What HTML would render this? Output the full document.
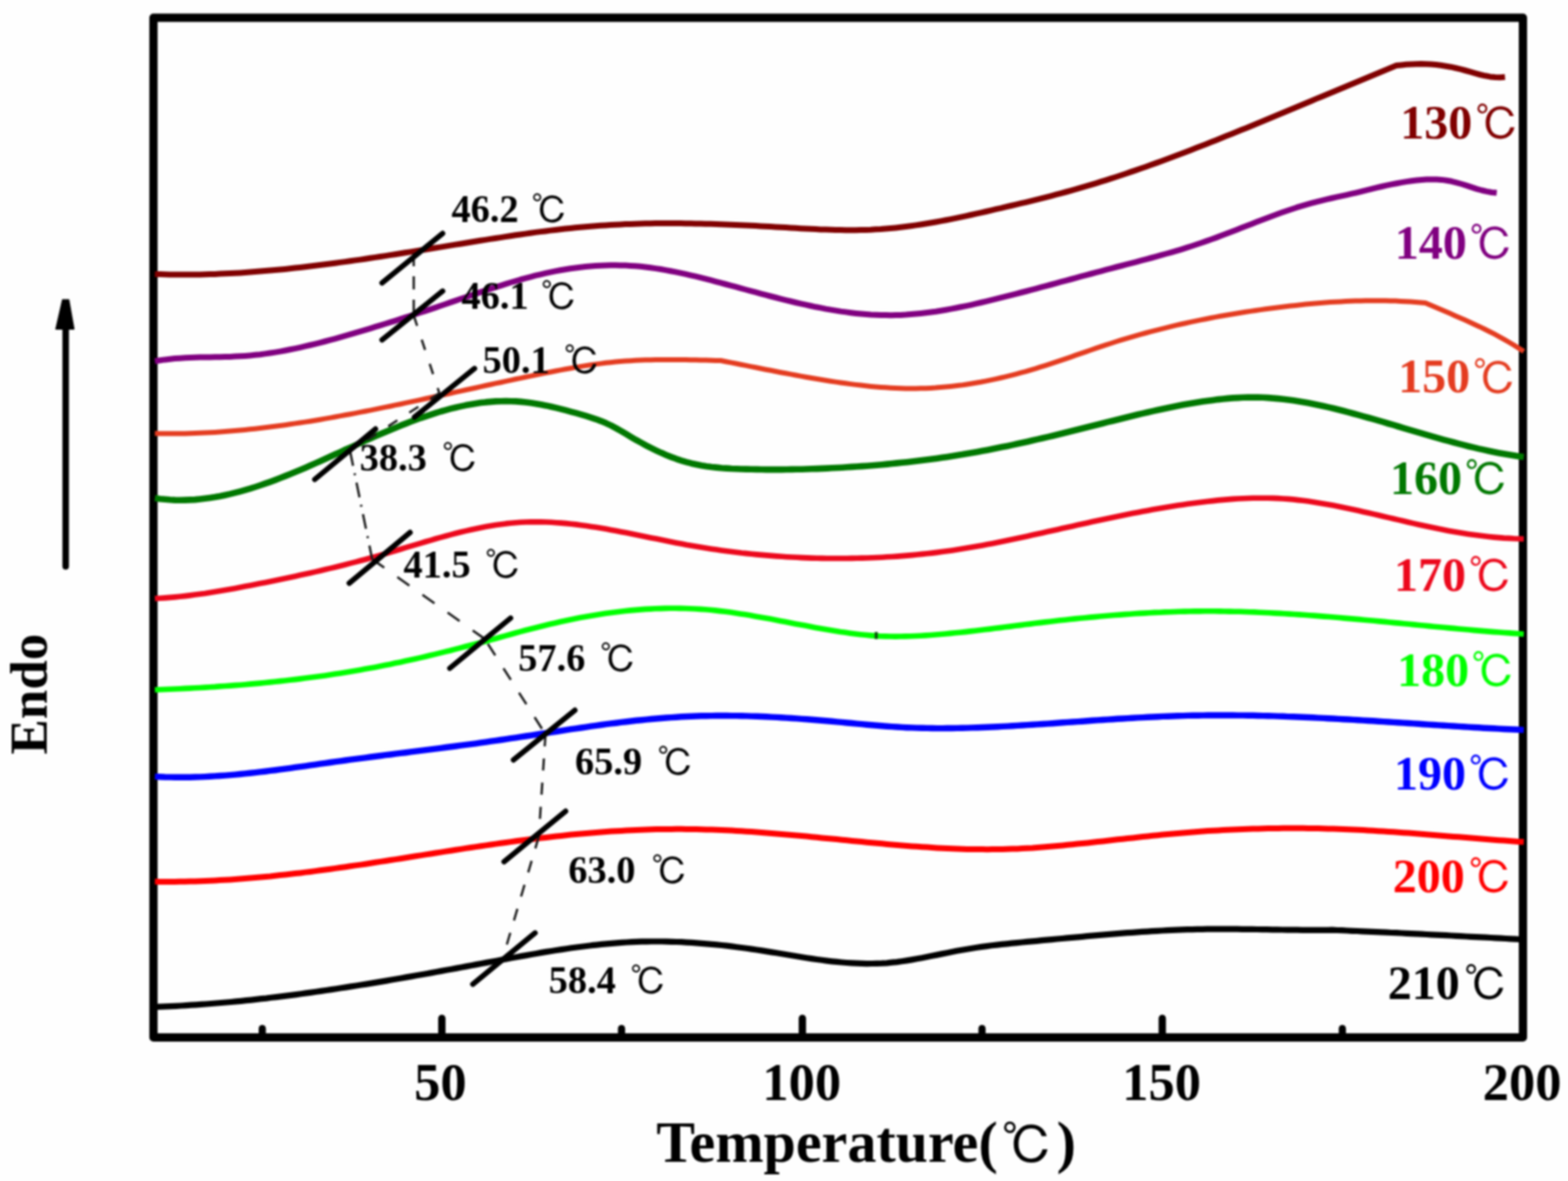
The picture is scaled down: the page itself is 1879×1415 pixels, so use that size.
<!DOCTYPE html>
<html lang="en"><head><meta charset="utf-8"><title>DSC curves</title>
<style>
html,body{margin:0;padding:0;background:#fefefe;}
body{width:1879px;height:1415px;overflow:hidden;}
svg{display:block;}
text{font-family:"Liberation Serif","Noto Serif CJK SC",serif;font-weight:bold;}
.cj{font-family:"Liberation Serif","IPAGothic","Noto Serif CJK SC",serif;font-weight:400;}
</style></head><body>
<svg width="1879" height="1415" viewBox="0 0 1879 1415">
<defs><filter id="softfocus" x="0" y="0" width="1879" height="1415" filterUnits="userSpaceOnUse" color-interpolation-filters="sRGB"><feGaussianBlur stdDeviation="0.85"/></filter></defs>
<rect x="0" y="0" width="1879" height="1415" fill="#fefefe"/>
<g filter="url(#softfocus)">
<rect x="-10" y="-10" width="1899" height="1435" fill="#fefefe"/>
<rect x="183.90" y="21.20" width="1641.10" height="1221.80" fill="none" stroke="#000" stroke-width="9.9" stroke-linejoin="round"/>
<g stroke="#000" stroke-linecap="round">
<line x1="529.5" y1="1240" x2="529.5" y2="1220.2" stroke-width="8.8"/>
<line x1="961.5" y1="1240" x2="961.5" y2="1220.2" stroke-width="8.8"/>
<line x1="1392.8" y1="1240" x2="1392.8" y2="1220.2" stroke-width="8.8"/>
<line x1="314.3" y1="1240" x2="314.3" y2="1232.3" stroke-width="8.6"/>
<line x1="744.8" y1="1240" x2="744.8" y2="1232.3" stroke-width="8.6"/>
<line x1="1176.8" y1="1240" x2="1176.8" y2="1232.3" stroke-width="8.6"/>
<line x1="1608.6" y1="1240" x2="1608.6" y2="1232.3" stroke-width="8.6"/>
</g>
<g fill="none" stroke-linecap="butt" stroke-linejoin="round">
<path d="M187.0 1206.3L193.0 1206.1L199.0 1205.9L205.0 1205.6L211.0 1205.3L217.0 1205.0L223.0 1204.6L229.0 1204.2L235.0 1203.8L241.0 1203.4L247.0 1203.0L253.0 1202.5L259.0 1202.0L265.0 1201.5L271.0 1201.0L277.0 1200.5L283.0 1199.9L289.0 1199.3L295.0 1198.7L301.0 1198.1L307.0 1197.4L313.0 1196.7L319.0 1196.1L325.0 1195.3L330.9 1194.6L336.9 1193.9L342.9 1193.1L348.9 1192.4L354.9 1191.6L360.9 1190.8L366.9 1189.9L372.9 1189.1L378.9 1188.3L384.9 1187.4L390.9 1186.5L396.9 1185.6L402.9 1184.7L408.9 1183.8L414.9 1182.9L420.9 1181.9L426.9 1181.0L432.9 1180.0L438.9 1179.1L444.9 1178.1L450.9 1177.1L456.9 1176.1L462.9 1175.1L468.9 1174.0L474.9 1173.0L480.9 1172.0L486.9 1170.9L492.9 1169.9L498.9 1168.8L504.9 1167.7L510.9 1166.7L516.9 1165.6L522.9 1164.5L528.9 1163.4L534.9 1162.3L540.9 1161.2L546.9 1160.1L552.9 1159.0L558.9 1157.9L564.9 1156.8L570.9 1155.6L576.9 1154.5L582.9 1153.4L588.9 1152.3L594.9 1151.2L600.9 1150.0L606.9 1148.9L612.8 1147.8L618.8 1146.7L624.8 1145.6L630.8 1144.6L636.8 1143.5L642.8 1142.5L648.8 1141.4L654.8 1140.4L660.8 1139.5L666.8 1138.5L672.8 1137.6L678.8 1136.7L684.8 1135.8L690.8 1135.0L696.8 1134.2L702.8 1133.5L708.8 1132.7L714.8 1132.1L720.8 1131.4L726.8 1130.9L732.8 1130.3L738.8 1129.8L744.8 1129.4L750.8 1129.0L756.8 1128.7L762.8 1128.4L768.8 1128.2L774.8 1128.1L780.8 1128.0L786.8 1128.0L792.8 1128.0L798.8 1128.1L804.8 1128.3L810.8 1128.5L816.8 1128.7L822.8 1129.1L828.8 1129.4L834.8 1129.8L840.8 1130.3L846.8 1130.8L852.8 1131.3L858.8 1131.9L864.8 1132.5L870.8 1133.2L876.8 1133.9L882.8 1134.7L888.8 1135.5L894.7 1136.3L900.7 1137.1L906.7 1138.0L912.7 1138.9L918.7 1139.9L924.7 1140.9L930.7 1141.8L936.7 1142.8L942.7 1143.8L948.7 1144.8L954.7 1145.8L960.7 1146.8L966.7 1147.7L972.7 1148.6L978.7 1149.5L984.7 1150.3L990.7 1151.1L996.7 1151.8L1002.7 1152.4L1008.7 1153.0L1014.7 1153.5L1020.7 1153.9L1026.7 1154.2L1032.7 1154.4L1038.7 1154.6L1044.7 1154.5L1050.7 1154.4L1056.7 1154.2L1062.7 1153.8L1068.7 1153.2L1074.7 1152.6L1080.7 1151.8L1086.7 1150.9L1092.7 1149.9L1098.7 1148.8L1104.7 1147.7L1110.7 1146.5L1116.7 1145.3L1122.7 1144.1L1128.7 1142.9L1134.7 1141.7L1140.7 1140.5L1146.7 1139.3L1152.7 1138.2L1158.7 1137.2L1164.7 1136.2L1170.7 1135.3L1176.6 1134.4L1182.6 1133.6L1188.6 1132.8L1194.6 1132.1L1200.6 1131.4L1206.6 1130.8L1212.6 1130.2L1218.6 1129.6L1224.6 1129.0L1230.6 1128.4L1236.6 1127.9L1242.6 1127.3L1248.6 1126.7L1254.6 1126.2L1260.6 1125.6L1266.6 1125.0L1272.6 1124.5L1278.6 1123.9L1284.6 1123.4L1290.6 1122.8L1296.6 1122.3L1302.6 1121.7L1308.6 1121.2L1314.6 1120.6L1320.6 1120.1L1326.6 1119.6L1332.6 1119.1L1338.6 1118.6L1344.6 1118.2L1350.6 1117.7L1356.6 1117.3L1362.6 1116.8L1368.6 1116.4L1374.6 1116.1L1380.6 1115.7L1386.6 1115.3L1392.6 1115.0L1398.6 1114.7L1404.6 1114.4L1410.6 1114.2L1416.6 1113.9L1422.6 1113.7L1428.6 1113.6L1434.6 1113.4L1440.6 1113.3L1446.6 1113.2L1452.6 1113.2L1458.5 1113.1L1464.5 1113.1L1470.5 1113.1L1476.5 1113.2L1482.5 1113.2L1488.5 1113.3L1494.5 1113.3L1500.5 1113.4L1506.5 1113.5L1512.5 1113.6L1518.5 1113.7L1524.5 1113.8L1530.5 1113.9L1536.5 1114.0L1542.5 1114.1L1548.5 1114.2L1554.5 1114.2L1560.5 1114.3L1566.5 1114.3L1572.5 1114.3L1578.5 1114.3L1584.5 1114.3L1590.5 1114.3L1596.5 1114.2L1602.4 1114.5L1608.4 1114.7L1614.3 1115.0L1620.2 1115.3L1626.2 1115.5L1632.1 1115.8L1638.0 1116.1L1644.0 1116.3L1649.9 1116.6L1655.8 1116.9L1661.8 1117.2L1667.7 1117.5L1673.6 1117.7L1679.6 1118.0L1685.5 1118.3L1691.4 1118.6L1697.4 1118.9L1703.3 1119.2L1709.2 1119.5L1715.2 1119.8L1721.1 1120.1L1727.1 1120.4L1733.0 1120.7L1738.9 1121.0L1744.9 1121.3L1750.8 1121.6L1756.7 1122.0L1762.7 1122.3L1768.6 1122.6L1774.5 1122.9L1780.5 1123.2L1786.4 1123.5L1792.3 1123.9L1798.3 1124.2L1804.2 1124.5L1810.1 1124.8L1816.1 1125.2L1822.0 1125.5" stroke="#000000" stroke-width="7.2"/>
<path d="M185.6 1056.3L191.6 1056.4L197.6 1056.4L203.6 1056.4L209.6 1056.4L215.6 1056.3L221.7 1056.2L227.7 1056.1L233.7 1055.9L239.7 1055.7L245.7 1055.5L251.7 1055.2L257.7 1054.9L263.7 1054.6L269.7 1054.3L275.7 1053.9L281.7 1053.5L287.7 1053.0L293.8 1052.6L299.8 1052.1L305.8 1051.6L311.8 1051.0L317.8 1050.4L323.8 1049.9L329.8 1049.2L335.8 1048.6L341.8 1048.0L347.8 1047.3L353.8 1046.6L359.9 1045.9L365.9 1045.1L371.9 1044.4L377.9 1043.6L383.9 1042.8L389.9 1042.0L395.9 1041.2L401.9 1040.4L407.9 1039.5L413.9 1038.7L419.9 1037.8L426.0 1036.9L432.0 1036.1L438.0 1035.2L444.0 1034.2L450.0 1033.3L456.0 1032.4L462.0 1031.5L468.0 1030.5L474.0 1029.6L480.0 1028.7L486.0 1027.7L492.0 1026.8L498.1 1025.8L504.1 1024.9L510.1 1023.9L516.1 1023.0L522.1 1022.0L528.1 1021.1L534.1 1020.1L540.1 1019.2L546.1 1018.3L552.1 1017.4L558.1 1016.4L564.2 1015.5L570.2 1014.6L576.2 1013.7L582.2 1012.9L588.2 1012.0L594.2 1011.1L600.2 1010.3L606.2 1009.5L612.2 1008.6L618.2 1007.8L624.2 1007.0L630.3 1006.3L636.3 1005.5L642.3 1004.8L648.3 1004.1L654.3 1003.4L660.3 1002.7L666.3 1002.0L672.3 1001.4L678.3 1000.7L684.3 1000.1L690.3 999.6L696.3 999.0L702.4 998.5L708.4 997.9L714.4 997.5L720.4 997.0L726.4 996.5L732.4 996.1L738.4 995.7L744.4 995.4L750.4 995.0L756.4 994.7L762.4 994.5L768.5 994.2L774.5 994.0L780.5 993.8L786.5 993.6L792.5 993.5L798.5 993.4L804.5 993.4L810.5 993.3L816.5 993.3L822.5 993.4L828.5 993.4L834.5 993.5L840.6 993.7L846.6 993.9L852.6 994.1L858.6 994.3L864.6 994.5L870.6 994.8L876.6 995.1L882.6 995.5L888.6 995.8L894.6 996.2L900.6 996.6L906.7 997.0L912.7 997.5L918.7 997.9L924.7 998.4L930.7 998.9L936.7 999.4L942.7 999.9L948.7 1000.5L954.7 1001.0L960.7 1001.6L966.7 1002.1L972.8 1002.7L978.8 1003.3L984.8 1003.9L990.8 1004.4L996.8 1005.0L1002.8 1005.6L1008.8 1006.2L1014.8 1006.8L1020.8 1007.4L1026.8 1008.0L1032.8 1008.6L1038.8 1009.2L1044.9 1009.7L1050.9 1010.3L1056.9 1010.8L1062.9 1011.4L1068.9 1011.9L1074.9 1012.4L1080.9 1012.9L1086.9 1013.4L1092.9 1013.9L1098.9 1014.3L1104.9 1014.7L1111.0 1015.1L1117.0 1015.5L1123.0 1015.9L1129.0 1016.2L1135.0 1016.5L1141.0 1016.8L1147.0 1017.0L1153.0 1017.2L1159.0 1017.4L1165.0 1017.5L1171.0 1017.6L1177.1 1017.6L1183.1 1017.7L1189.1 1017.6L1195.1 1017.6L1201.1 1017.5L1207.1 1017.3L1213.1 1017.1L1219.1 1016.9L1225.1 1016.6L1231.1 1016.2L1237.1 1015.9L1243.1 1015.4L1249.2 1015.0L1255.2 1014.5L1261.2 1014.0L1267.2 1013.5L1273.2 1012.9L1279.2 1012.3L1285.2 1011.7L1291.2 1011.1L1297.2 1010.5L1303.2 1009.9L1309.2 1009.2L1315.3 1008.5L1321.3 1007.9L1327.3 1007.2L1333.3 1006.5L1339.3 1005.8L1345.3 1005.2L1351.3 1004.5L1357.3 1003.9L1363.3 1003.2L1369.3 1002.6L1375.3 1001.9L1381.3 1001.3L1387.4 1000.7L1393.4 1000.1L1399.4 999.5L1405.4 999.0L1411.4 998.4L1417.4 997.9L1423.4 997.4L1429.4 996.9L1435.4 996.5L1441.4 996.1L1447.4 995.6L1453.5 995.3L1459.5 994.9L1465.5 994.6L1471.5 994.2L1477.5 994.0L1483.5 993.7L1489.5 993.4L1495.5 993.2L1501.5 993.0L1507.5 992.9L1513.5 992.7L1519.6 992.6L1525.6 992.5L1531.6 992.4L1537.6 992.3L1543.6 992.3L1549.6 992.3L1555.6 992.3L1561.6 992.3L1567.6 992.4L1573.6 992.5L1579.6 992.6L1585.6 992.7L1591.7 992.9L1597.7 993.1L1603.7 993.3L1609.7 993.5L1615.7 993.8L1621.7 994.0L1627.7 994.3L1633.7 994.6L1639.7 995.0L1645.7 995.3L1651.7 995.7L1657.8 996.0L1663.8 996.4L1669.8 996.8L1675.8 997.2L1681.8 997.7L1687.8 998.1L1693.8 998.6L1699.8 999.0L1705.8 999.5L1711.8 999.9L1717.8 1000.4L1723.9 1000.9L1729.9 1001.4L1735.9 1001.9L1741.9 1002.4L1747.9 1002.8L1753.9 1003.3L1759.9 1003.8L1765.9 1004.3L1771.9 1004.8L1777.9 1005.3L1783.9 1005.7L1789.9 1006.2L1796.0 1006.7L1802.0 1007.1L1808.0 1007.5L1814.0 1008.0L1820.0 1008.4L1826.0 1008.8" stroke="#ff0000" stroke-width="7.0"/>
<path d="M185.6 930.4L191.6 930.7L197.6 931.0L203.6 931.1L209.6 931.2L215.6 931.3L221.7 931.3L227.7 931.2L233.7 931.0L239.7 930.9L245.7 930.6L251.7 930.3L257.7 929.9L263.7 929.5L269.7 929.1L275.7 928.6L281.7 928.1L287.7 927.5L293.8 926.9L299.8 926.3L305.8 925.6L311.8 924.9L317.8 924.2L323.8 923.4L329.8 922.7L335.8 921.9L341.8 921.1L347.8 920.3L353.8 919.4L359.9 918.6L365.9 917.8L371.9 916.9L377.9 916.1L383.9 915.2L389.9 914.4L395.9 913.5L401.9 912.7L407.9 911.8L413.9 911.0L419.9 910.2L426.0 909.4L432.0 908.6L438.0 907.8L444.0 907.0L450.0 906.3L456.0 905.5L462.0 904.7L468.0 904.0L474.0 903.2L480.0 902.4L486.0 901.7L492.0 900.9L498.1 900.1L504.1 899.4L510.1 898.6L516.1 897.9L522.1 897.1L528.1 896.3L534.1 895.5L540.1 894.8L546.1 894.0L552.1 893.2L558.1 892.4L564.2 891.6L570.2 890.8L576.2 889.9L582.2 889.1L588.2 888.2L594.2 887.4L600.2 886.5L606.2 885.6L612.2 884.7L618.2 883.8L624.2 882.9L630.3 882.0L636.3 881.1L642.3 880.2L648.3 879.2L654.3 878.3L660.3 877.4L666.3 876.5L672.3 875.6L678.3 874.6L684.3 873.7L690.3 872.8L696.3 872.0L702.4 871.1L708.4 870.2L714.4 869.4L720.4 868.5L726.4 867.7L732.4 866.9L738.4 866.2L744.4 865.4L750.4 864.7L756.4 864.0L762.4 863.3L768.5 862.7L774.5 862.1L780.5 861.5L786.5 861.0L792.5 860.5L798.5 860.0L804.5 859.6L810.5 859.2L816.5 858.8L822.5 858.5L828.5 858.2L834.5 858.0L840.6 857.8L846.6 857.7L852.6 857.6L858.6 857.5L864.6 857.5L870.6 857.5L876.6 857.6L882.6 857.6L888.6 857.8L894.6 857.9L900.6 858.1L906.7 858.3L912.7 858.5L918.7 858.8L924.7 859.1L930.7 859.4L936.7 859.8L942.7 860.1L948.7 860.5L954.7 860.9L960.7 861.4L966.7 861.8L972.8 862.3L978.8 862.8L984.8 863.3L990.8 863.8L996.8 864.3L1002.8 864.9L1008.8 865.4L1014.8 866.0L1020.8 866.5L1026.8 867.1L1032.8 867.6L1038.8 868.2L1044.9 868.7L1050.9 869.2L1056.9 869.7L1062.9 870.2L1068.9 870.6L1074.9 871.0L1080.9 871.4L1086.9 871.7L1092.9 871.9L1098.9 872.1L1104.9 872.3L1111.0 872.4L1117.0 872.5L1123.0 872.6L1129.0 872.6L1135.0 872.5L1141.0 872.5L1147.0 872.4L1153.0 872.3L1159.0 872.1L1165.0 871.9L1171.0 871.7L1177.1 871.5L1183.1 871.2L1189.1 871.0L1195.1 870.7L1201.1 870.4L1207.1 870.1L1213.1 869.7L1219.1 869.4L1225.1 869.0L1231.1 868.6L1237.1 868.3L1243.1 867.9L1249.2 867.5L1255.2 867.1L1261.2 866.7L1267.2 866.3L1273.2 865.8L1279.2 865.4L1285.2 865.0L1291.2 864.6L1297.2 864.2L1303.2 863.7L1309.2 863.3L1315.3 862.9L1321.3 862.5L1327.3 862.1L1333.3 861.7L1339.3 861.3L1345.3 861.0L1351.3 860.6L1357.3 860.3L1363.3 859.9L1369.3 859.6L1375.3 859.3L1381.3 859.0L1387.4 858.7L1393.4 858.4L1399.4 858.2L1405.4 858.0L1411.4 857.8L1417.4 857.6L1423.4 857.4L1429.4 857.3L1435.4 857.2L1441.4 857.1L1447.4 857.0L1453.5 857.0L1459.5 857.0L1465.5 857.0L1471.5 857.0L1477.5 857.0L1483.5 857.1L1489.5 857.1L1495.5 857.2L1501.5 857.3L1507.5 857.5L1513.5 857.6L1519.6 857.8L1525.6 857.9L1531.6 858.1L1537.6 858.3L1543.6 858.6L1549.6 858.8L1555.6 859.0L1561.6 859.3L1567.6 859.5L1573.6 859.8L1579.6 860.1L1585.6 860.4L1591.7 860.7L1597.7 861.0L1603.7 861.4L1609.7 861.7L1615.7 862.0L1621.7 862.4L1627.7 862.7L1633.7 863.1L1639.7 863.5L1645.7 863.8L1651.7 864.2L1657.8 864.6L1663.8 865.0L1669.8 865.4L1675.8 865.7L1681.8 866.1L1687.8 866.5L1693.8 866.9L1699.8 867.3L1705.8 867.7L1711.8 868.1L1717.8 868.5L1723.9 868.9L1729.9 869.2L1735.9 869.6L1741.9 870.0L1747.9 870.4L1753.9 870.7L1759.9 871.1L1765.9 871.5L1771.9 871.8L1777.9 872.2L1783.9 872.5L1789.9 872.8L1796.0 873.1L1802.0 873.5L1808.0 873.8L1814.0 874.0L1820.0 874.3L1826.0 874.6" stroke="#0000ff" stroke-width="7.4"/>
<path d="M185.6 826.5L191.6 826.3L197.6 826.0L203.6 825.8L209.6 825.5L215.6 825.2L221.6 824.9L227.6 824.6L233.6 824.3L239.6 824.0L245.6 823.6L251.6 823.2L257.6 822.9L263.5 822.4L269.5 822.0L275.5 821.6L281.5 821.1L287.5 820.7L293.5 820.2L299.5 819.6L305.5 819.1L311.5 818.6L317.5 818.0L323.5 817.4L329.5 816.8L335.5 816.1L341.5 815.5L347.5 814.8L353.5 814.1L359.5 813.4L365.5 812.6L371.5 811.8L377.5 811.0L383.5 810.2L389.5 809.4L395.5 808.5L401.5 807.6L407.4 806.7L413.4 805.7L419.4 804.7L425.4 803.7L431.4 802.7L437.4 801.6L443.4 800.5L449.4 799.4L455.4 798.3L461.4 797.1L467.4 795.9L473.4 794.6L479.4 793.4L485.4 792.1L491.4 790.8L497.4 789.5L503.4 788.1L509.4 786.7L515.4 785.3L521.4 783.9L527.4 782.4L533.4 780.9L539.4 779.5L545.4 777.9L551.3 776.4L557.3 774.8L563.3 773.3L569.3 771.7L575.3 770.1L581.3 768.5L587.3 766.8L593.3 765.2L599.3 763.5L605.3 761.8L611.3 760.2L617.3 758.5L623.3 756.9L629.3 755.3L635.3 753.7L641.3 752.2L647.3 750.7L653.3 749.2L659.3 747.7L665.3 746.4L671.3 745.0L677.3 743.7L683.3 742.4L689.2 741.2L695.2 740.1L701.2 739.0L707.2 737.9L713.2 736.9L719.2 735.9L725.2 735.0L731.2 734.2L737.2 733.4L743.2 732.7L749.2 732.0L755.2 731.4L761.2 730.9L767.2 730.4L773.2 729.9L779.2 729.6L785.2 729.3L791.2 729.1L797.2 728.9L803.2 728.8L809.2 728.8L815.2 728.9L821.2 729.0L827.2 729.2L833.2 729.5L839.1 729.9L845.1 730.3L851.1 730.8L857.1 731.4L863.1 732.1L869.1 732.8L875.1 733.6L881.1 734.5L887.1 735.4L893.1 736.3L899.1 737.3L905.1 738.4L911.1 739.4L917.1 740.5L923.1 741.6L929.1 742.7L935.1 743.9L941.1 745.0L947.1 746.2L953.1 747.4L959.1 748.5L965.1 749.6L971.1 750.8L977.1 751.9L983.0 753.0L989.0 754.0L995.0 755.0L1001.0 756.0L1007.0 757.0L1013.0 757.8L1019.0 758.7L1025.0 759.5L1031.0 760.2L1037.0 760.8L1043.0 761.4L1049.0 761.9L1055.0 762.2L1061.0 762.4L1066.9 762.5L1072.9 762.6L1078.9 762.5L1084.9 762.4L1090.8 762.2L1096.8 762.0L1102.8 761.7L1108.8 761.4L1114.7 761.0L1120.7 760.5L1126.7 760.0L1132.7 759.5L1138.7 758.9L1144.6 758.3L1150.6 757.7L1156.6 757.1L1162.6 756.4L1168.5 755.7L1174.5 755.0L1180.5 754.3L1186.5 753.6L1192.4 752.8L1198.4 752.1L1204.4 751.3L1210.4 750.6L1216.4 749.8L1222.3 749.1L1228.3 748.3L1234.3 747.6L1240.3 746.8L1246.2 746.1L1252.2 745.4L1258.2 744.7L1264.2 744.0L1270.1 743.3L1276.1 742.7L1282.1 742.0L1288.1 741.4L1294.1 740.8L1300.0 740.2L1306.0 739.6L1312.0 739.1L1318.0 738.5L1323.9 738.0L1329.9 737.5L1335.9 737.0L1341.9 736.6L1347.8 736.1L1353.8 735.7L1359.8 735.3L1365.8 734.9L1371.8 734.6L1377.7 734.3L1383.7 733.9L1389.7 733.7L1395.7 733.4L1401.6 733.2L1407.6 733.0L1413.6 732.8L1419.6 732.6L1425.5 732.5L1431.5 732.4L1437.5 732.4L1443.5 732.3L1449.5 732.3L1455.4 732.3L1461.4 732.4L1467.4 732.5L1473.4 732.6L1479.3 732.7L1485.3 732.8L1491.3 733.0L1497.3 733.2L1503.2 733.4L1509.2 733.7L1515.2 734.0L1521.2 734.2L1527.2 734.6L1533.1 734.9L1539.1 735.2L1545.1 735.6L1551.1 736.0L1557.0 736.4L1563.0 736.8L1569.0 737.2L1575.0 737.6L1580.9 738.1L1586.9 738.6L1592.9 739.0L1598.9 739.5L1604.9 740.0L1610.8 740.6L1616.8 741.1L1622.8 741.6L1628.8 742.1L1634.7 742.7L1640.7 743.2L1646.7 743.8L1652.7 744.4L1658.6 744.9L1664.6 745.5L1670.6 746.1L1676.6 746.6L1682.6 747.2L1688.5 747.8L1694.5 748.4L1700.5 749.0L1706.5 749.5L1712.4 750.1L1718.4 750.7L1724.4 751.2L1730.4 751.8L1736.3 752.4L1742.3 752.9L1748.3 753.5L1754.3 754.0L1760.3 754.5L1766.2 755.1L1772.2 755.6L1778.2 756.1L1784.2 756.6L1790.1 757.1L1796.1 757.5L1802.1 758.0L1808.1 758.4L1814.0 758.9L1820.0 759.3L1826.0 759.7" stroke="#00ff00" stroke-width="6.6"/>
<path d="M185.6 717.1L191.6 716.8L197.6 716.4L203.6 715.9L209.6 715.4L215.6 714.8L221.7 714.1L227.7 713.4L233.7 712.6L239.7 711.8L245.7 711.0L251.7 710.0L257.7 709.1L263.7 708.1L269.7 707.1L275.7 706.0L281.7 704.9L287.7 703.8L293.8 702.6L299.8 701.5L305.8 700.3L311.8 699.1L317.8 697.9L323.8 696.7L329.8 695.5L335.8 694.2L341.8 693.0L347.8 691.7L353.8 690.4L359.9 689.1L365.9 687.8L371.9 686.5L377.9 685.1L383.9 683.7L389.9 682.3L395.9 680.9L401.9 679.5L407.9 678.0L413.9 676.5L419.9 674.9L426.0 673.4L432.0 671.8L438.0 670.2L444.0 668.5L450.0 666.8L456.0 665.1L462.0 663.3L468.0 661.6L474.0 659.8L480.0 658.0L486.0 656.2L492.0 654.4L498.1 652.6L504.1 650.8L510.1 649.0L516.1 647.3L522.1 645.5L528.1 643.9L534.1 642.2L540.1 640.6L546.1 639.0L552.1 637.5L558.1 636.1L564.2 634.7L570.2 633.4L576.2 632.2L582.2 631.1L588.2 630.0L594.2 629.0L600.2 628.2L606.2 627.4L612.2 626.8L618.2 626.2L624.2 625.8L630.3 625.5L636.3 625.4L642.3 625.3L648.3 625.4L654.3 625.5L660.3 625.8L666.3 626.2L672.3 626.6L678.3 627.1L684.3 627.7L690.3 628.4L696.3 629.2L702.4 630.0L708.4 630.9L714.4 631.8L720.4 632.8L726.4 633.8L732.4 634.9L738.4 636.0L744.4 637.2L750.4 638.3L756.4 639.5L762.4 640.7L768.5 641.9L774.5 643.2L780.5 644.4L786.5 645.6L792.5 646.8L798.5 648.0L804.5 649.2L810.5 650.4L816.5 651.5L822.5 652.7L828.5 653.7L834.5 654.8L840.6 655.8L846.6 656.7L852.6 657.7L858.6 658.6L864.6 659.4L870.6 660.2L876.6 661.0L882.6 661.7L888.6 662.5L894.6 663.1L900.6 663.8L906.7 664.4L912.7 664.9L918.7 665.4L924.7 665.9L930.7 666.4L936.7 666.8L942.7 667.2L948.7 667.5L954.7 667.8L960.7 668.1L966.7 668.4L972.8 668.6L978.8 668.7L984.8 668.9L990.8 669.0L996.8 669.0L1002.8 669.0L1008.8 669.0L1014.8 669.0L1020.8 668.9L1026.8 668.8L1032.8 668.6L1038.8 668.5L1044.9 668.2L1050.9 668.0L1056.9 667.7L1062.9 667.3L1068.9 667.0L1074.9 666.6L1080.9 666.1L1086.9 665.6L1092.9 665.1L1098.9 664.5L1104.9 663.9L1111.0 663.3L1117.0 662.6L1123.0 661.9L1129.0 661.1L1135.0 660.3L1141.0 659.4L1147.0 658.5L1153.0 657.6L1159.0 656.6L1165.0 655.6L1171.0 654.5L1177.1 653.4L1183.1 652.3L1189.1 651.2L1195.1 650.0L1201.1 648.8L1207.1 647.5L1213.1 646.3L1219.1 645.0L1225.1 643.7L1231.1 642.4L1237.1 641.1L1243.1 639.7L1249.2 638.4L1255.2 637.1L1261.2 635.7L1267.2 634.4L1273.2 633.1L1279.2 631.7L1285.2 630.4L1291.2 629.1L1297.2 627.7L1303.2 626.4L1309.2 625.1L1315.3 623.8L1321.3 622.5L1327.3 621.3L1333.3 620.0L1339.3 618.8L1345.3 617.5L1351.3 616.3L1357.3 615.1L1363.3 614.0L1369.3 612.8L1375.3 611.7L1381.3 610.6L1387.4 609.6L1393.4 608.5L1399.4 607.5L1405.4 606.5L1411.4 605.6L1417.4 604.7L1423.4 603.8L1429.4 603.0L1435.4 602.2L1441.4 601.4L1447.4 600.7L1453.5 600.1L1459.5 599.4L1465.5 598.9L1471.5 598.4L1477.5 597.9L1483.5 597.5L1489.5 597.2L1495.5 597.0L1501.5 596.8L1507.5 596.7L1513.5 596.7L1519.6 596.7L1525.6 596.9L1531.6 597.1L1537.6 597.5L1543.6 597.9L1549.6 598.4L1555.6 599.1L1561.6 599.8L1567.6 600.6L1573.6 601.4L1579.6 602.4L1585.6 603.4L1591.7 604.4L1597.7 605.6L1603.7 606.7L1609.7 608.0L1615.7 609.2L1621.7 610.5L1627.7 611.8L1633.7 613.2L1639.7 614.5L1645.7 615.9L1651.7 617.3L1657.8 618.7L1663.8 620.1L1669.8 621.5L1675.8 622.9L1681.8 624.3L1687.8 625.7L1693.8 627.1L1699.8 628.4L1705.8 629.8L1711.8 631.1L1717.8 632.3L1723.9 633.6L1729.9 634.7L1735.9 635.9L1741.9 637.0L1747.9 638.0L1753.9 639.0L1759.9 639.9L1765.9 640.8L1771.9 641.6L1777.9 642.3L1783.9 643.0L1789.9 643.6L1796.0 644.1L1802.0 644.6L1808.0 644.9L1814.0 645.3L1820.0 645.5L1826.0 645.7" stroke="#ec081c" stroke-width="6.6"/>
<path d="M185.6 596.8L191.6 597.7L197.6 598.3L203.6 598.8L209.6 599.1L215.6 599.2L221.7 599.1L227.7 598.9L233.7 598.6L239.7 598.0L245.7 597.3L251.7 596.5L257.7 595.6L263.7 594.5L269.7 593.2L275.7 591.9L281.7 590.4L287.7 588.8L293.8 587.1L299.8 585.4L305.8 583.5L311.8 581.5L317.8 579.4L323.8 577.3L329.8 575.1L335.8 572.8L341.8 570.4L347.8 568.0L353.8 565.5L359.9 563.0L365.9 560.4L371.9 557.8L377.9 555.1L383.9 552.5L389.9 549.8L395.9 547.0L401.9 544.3L407.9 541.6L413.9 538.8L419.9 536.1L426.0 533.4L432.0 530.6L438.0 527.9L444.0 525.2L450.0 522.6L456.0 520.0L462.0 517.4L468.0 514.9L474.0 512.4L480.0 509.9L486.0 507.6L492.0 505.3L498.1 503.0L504.1 500.8L510.1 498.8L516.1 496.8L522.1 494.9L528.1 493.0L534.1 491.3L540.1 489.7L546.1 488.2L552.1 486.9L558.1 485.6L564.2 484.5L570.2 483.5L576.2 482.6L582.2 481.9L588.2 481.4L594.2 480.9L600.2 480.7L606.2 480.6L612.2 480.7L618.2 480.9L624.2 481.4L630.3 482.0L636.3 482.8L642.3 483.7L648.3 484.8L654.3 485.9L660.3 487.2L666.3 488.6L672.3 490.1L678.3 491.7L684.3 493.3L690.3 494.9L696.3 496.6L702.4 498.4L708.4 500.3L714.4 502.3L720.4 504.6L726.4 507.1L732.4 509.9L738.4 513.1L744.4 516.5L750.4 520.1L756.4 523.7L762.4 527.2L768.5 530.5L774.5 533.8L780.5 536.9L786.5 539.8L792.5 542.6L798.5 545.2L804.5 547.6L810.5 549.8L816.5 551.8L822.5 553.6L828.5 555.2L834.5 556.5L840.6 557.7L846.6 558.7L852.6 559.5L858.6 560.1L864.6 560.7L870.6 561.1L876.6 561.5L882.6 561.7L888.6 562.0L894.6 562.1L900.6 562.3L906.7 562.4L912.7 562.5L918.7 562.6L924.7 562.6L930.7 562.6L936.7 562.6L942.7 562.5L948.7 562.4L954.7 562.3L960.7 562.2L966.7 562.0L972.8 561.8L978.8 561.6L984.8 561.4L990.8 561.1L996.8 560.8L1002.8 560.5L1008.8 560.2L1014.8 559.8L1020.8 559.4L1026.8 559.0L1032.8 558.6L1038.8 558.2L1044.9 557.7L1050.9 557.2L1056.9 556.7L1062.9 556.1L1068.9 555.5L1074.9 554.9L1080.9 554.3L1086.9 553.7L1092.9 553.0L1098.9 552.3L1104.9 551.5L1111.0 550.8L1117.0 550.0L1123.0 549.2L1129.0 548.3L1135.0 547.4L1141.0 546.5L1147.0 545.5L1153.0 544.6L1159.0 543.5L1165.0 542.5L1171.0 541.4L1177.1 540.3L1183.1 539.2L1189.1 538.0L1195.1 536.8L1201.1 535.6L1207.1 534.4L1213.1 533.1L1219.1 531.8L1225.1 530.5L1231.1 529.2L1237.1 527.8L1243.1 526.4L1249.2 525.0L1255.2 523.6L1261.2 522.2L1267.2 520.8L1273.2 519.3L1279.2 517.8L1285.2 516.3L1291.2 514.8L1297.2 513.3L1303.2 511.8L1309.2 510.3L1315.3 508.8L1321.3 507.3L1327.3 505.7L1333.3 504.2L1339.3 502.7L1345.3 501.2L1351.3 499.7L1357.3 498.3L1363.3 496.8L1369.3 495.4L1375.3 494.0L1381.3 492.6L1387.4 491.3L1393.4 490.0L1399.4 488.7L1405.4 487.5L1411.4 486.3L1417.4 485.1L1423.4 484.0L1429.4 483.0L1435.4 482.0L1441.4 481.0L1447.4 480.2L1453.5 479.4L1459.5 478.6L1465.5 478.0L1471.5 477.4L1477.5 476.9L1483.5 476.6L1489.5 476.3L1495.5 476.1L1501.5 476.1L1507.5 476.1L1513.5 476.3L1519.6 476.6L1525.6 477.1L1531.6 477.6L1537.6 478.2L1543.6 479.0L1549.6 479.8L1555.6 480.7L1561.6 481.7L1567.6 482.8L1573.6 484.0L1579.6 485.2L1585.6 486.5L1591.7 487.9L1597.7 489.3L1603.7 490.8L1609.7 492.3L1615.7 493.9L1621.7 495.5L1627.7 497.1L1633.7 498.8L1639.7 500.5L1645.7 502.2L1651.7 503.9L1657.8 505.7L1663.8 507.5L1669.8 509.2L1675.8 511.0L1681.8 512.8L1687.8 514.6L1693.8 516.4L1699.8 518.1L1705.8 519.9L1711.8 521.6L1717.8 523.4L1723.9 525.1L1729.9 526.8L1735.9 528.4L1741.9 530.0L1747.9 531.6L1753.9 533.2L1759.9 534.7L1765.9 536.1L1771.9 537.6L1777.9 538.9L1783.9 540.2L1789.9 541.5L1796.0 542.7L1802.0 543.8L1808.0 544.8L1814.0 545.8L1820.0 546.7L1826.0 547.5" stroke="#007800" stroke-width="7.6"/>
<path d="M185.6 519.3L191.6 519.4L197.6 519.5L203.6 519.6L209.6 519.5L215.6 519.5L221.6 519.4L227.6 519.2L233.6 519.0L239.6 518.8L245.6 518.5L251.6 518.2L257.6 517.9L263.6 517.5L269.6 517.0L275.6 516.6L281.6 516.1L287.6 515.5L293.6 514.9L299.6 514.3L305.6 513.7L311.6 513.0L317.6 512.3L323.6 511.6L329.6 510.8L335.6 510.0L341.6 509.2L347.6 508.3L353.6 507.4L359.6 506.5L365.6 505.6L371.6 504.7L377.6 503.7L383.6 502.7L389.6 501.6L395.6 500.6L401.6 499.5L407.6 498.4L413.6 497.3L419.6 496.2L425.6 495.1L431.6 493.9L437.6 492.7L443.6 491.6L449.6 490.4L455.6 489.1L461.6 487.9L467.6 486.7L473.6 485.4L479.6 484.2L485.6 482.9L491.6 481.6L497.6 480.4L503.6 479.1L509.6 477.8L515.6 476.5L521.6 475.2L527.7 473.8L533.7 472.5L539.7 471.2L545.7 469.9L551.7 468.6L557.7 467.3L563.7 466.0L569.7 464.7L575.7 463.3L581.7 462.0L587.7 460.7L593.7 459.4L599.7 458.2L605.7 456.9L611.7 455.6L617.7 454.3L623.7 453.1L629.7 451.8L635.7 450.6L641.7 449.3L647.7 448.1L653.7 446.9L659.7 445.7L665.7 444.5L671.7 443.4L677.7 442.2L683.7 441.2L689.7 440.1L695.7 439.1L701.7 438.1L707.7 437.2L713.7 436.4L719.7 435.6L725.7 434.8L731.7 434.2L737.7 433.6L743.7 433.0L749.7 432.6L755.7 432.2L761.7 431.8L767.7 431.6L773.7 431.3L779.7 431.2L785.7 431.0L791.7 430.9L797.7 430.9L803.7 430.9L809.7 430.9L815.7 431.0L821.7 431.1L827.7 431.2L833.7 431.3L839.7 431.4L845.7 431.5L851.7 431.7L857.7 431.9L863.7 432.0L869.7 433.2L875.7 434.4L881.7 435.5L887.7 436.7L893.6 437.9L899.6 439.1L905.6 440.3L911.6 441.5L917.6 442.7L923.6 443.8L929.6 445.0L935.6 446.2L941.6 447.3L947.6 448.4L953.5 449.5L959.5 450.6L965.5 451.7L971.5 452.8L977.5 453.8L983.5 454.8L989.5 455.8L995.5 456.7L1001.5 457.6L1007.4 458.5L1013.4 459.3L1019.4 460.1L1025.4 460.9L1031.4 461.6L1037.4 462.3L1043.4 462.9L1049.4 463.4L1055.4 463.9L1061.3 464.3L1067.3 464.7L1073.3 465.0L1079.3 465.2L1085.3 465.4L1091.3 465.4L1097.3 465.4L1103.3 465.3L1109.3 465.2L1115.3 464.9L1121.2 464.6L1127.2 464.1L1133.2 463.6L1139.2 463.0L1145.2 462.3L1151.2 461.6L1157.2 460.7L1163.2 459.8L1169.2 458.8L1175.1 457.8L1181.1 456.6L1187.1 455.4L1193.1 454.1L1199.1 452.8L1205.1 451.4L1211.1 449.9L1217.1 448.3L1223.1 446.7L1229.1 445.1L1235.0 443.3L1241.0 441.6L1247.0 439.7L1253.0 437.8L1259.0 435.9L1265.0 433.9L1271.0 431.9L1277.0 429.8L1283.0 427.8L1288.9 425.7L1294.9 423.6L1300.9 421.6L1306.9 419.5L1312.9 417.4L1318.9 415.4L1324.9 413.4L1330.9 411.5L1336.9 409.5L1342.8 407.7L1348.8 405.8L1354.8 404.1L1360.8 402.3L1366.8 400.6L1372.8 399.0L1378.8 397.4L1384.8 395.8L1390.8 394.3L1396.8 392.8L1402.7 391.3L1408.7 389.9L1414.7 388.5L1420.7 387.2L1426.7 385.9L1432.7 384.6L1438.7 383.4L1444.7 382.2L1450.7 381.0L1456.6 379.9L1462.6 378.8L1468.6 377.7L1474.6 376.7L1480.6 375.7L1486.6 374.7L1492.6 373.8L1498.6 372.9L1504.6 372.0L1510.6 371.1L1516.5 370.3L1522.5 369.5L1528.5 368.7L1534.5 368.0L1540.5 367.2L1546.5 366.5L1552.5 365.9L1558.5 365.2L1564.5 364.6L1570.4 364.0L1576.4 363.5L1582.4 363.0L1588.4 362.5L1594.4 362.1L1600.4 361.7L1606.4 361.4L1612.4 361.1L1618.4 360.8L1624.3 360.6L1630.3 360.4L1636.3 360.3L1642.3 360.2L1648.3 360.2L1654.3 360.2L1660.3 360.3L1666.3 360.4L1672.3 360.6L1678.3 360.9L1684.2 361.2L1690.2 361.5L1696.2 362.0L1702.2 362.4L1708.2 363.0L1714.1 365.6L1720.0 368.1L1725.9 370.6L1731.8 373.1L1737.7 375.6L1743.5 378.2L1749.4 380.7L1755.3 383.3L1761.2 386.0L1767.1 388.7L1773.0 391.4L1778.9 394.3L1784.8 397.2L1790.7 400.2L1796.5 403.3L1802.4 406.6L1808.3 410.0L1814.2 413.5L1820.1 417.2L1826.0 421.0" stroke="#e43c20" stroke-width="6.0"/>
<path d="M185.6 432.8L191.6 431.8L197.6 430.9L203.6 430.2L209.6 429.6L215.6 429.2L221.6 428.8L227.6 428.5L233.6 428.3L239.6 428.1L245.6 428.0L251.6 427.9L257.6 427.8L263.6 427.7L269.6 427.6L275.6 427.4L281.6 427.1L287.6 426.8L293.6 426.4L299.6 425.9L305.6 425.3L311.6 424.7L317.6 423.9L323.6 423.0L329.6 422.1L335.6 421.1L341.6 420.0L347.6 418.8L353.6 417.6L359.6 416.3L365.6 414.9L371.6 413.5L377.6 412.1L383.6 410.6L389.6 409.0L395.6 407.4L401.6 405.8L407.6 404.1L413.6 402.4L419.6 400.7L425.6 398.9L431.6 397.2L437.6 395.4L443.6 393.6L449.6 391.7L455.6 389.9L461.6 388.0L467.6 386.2L473.6 384.3L479.6 382.3L485.6 380.4L491.6 378.5L497.6 376.5L503.6 374.5L509.6 372.6L515.6 370.6L521.6 368.6L527.6 366.5L533.6 364.5L539.6 362.4L545.6 360.4L551.6 358.3L557.6 356.3L563.6 354.2L569.6 352.2L575.6 350.1L581.6 348.1L587.6 346.1L593.6 344.2L599.6 342.3L605.6 340.4L611.6 338.5L617.6 336.8L623.6 335.0L629.6 333.4L635.6 331.8L641.6 330.2L647.6 328.8L653.6 327.4L659.6 326.1L665.6 324.9L671.6 323.8L677.6 322.8L683.6 321.8L689.6 321.0L695.6 320.2L701.6 319.6L707.6 319.0L713.6 318.6L719.6 318.2L725.6 318.0L731.6 317.8L737.6 317.8L743.6 317.9L749.6 318.1L755.6 318.4L761.6 318.8L767.6 319.3L773.6 320.0L779.6 320.8L785.6 321.6L791.6 322.5L797.6 323.6L803.6 324.7L809.6 325.9L815.6 327.1L821.6 328.4L827.6 329.8L833.6 331.2L839.6 332.7L845.6 334.2L851.6 335.7L857.6 337.3L863.6 338.9L869.6 340.5L875.6 342.1L881.6 343.7L887.6 345.3L893.6 347.0L899.6 348.6L905.6 350.2L911.6 351.8L917.6 353.4L923.6 355.0L929.6 356.5L935.6 358.1L941.6 359.6L947.6 361.0L953.6 362.5L959.6 363.9L965.6 365.2L971.6 366.5L977.6 367.8L983.6 368.9L989.6 370.1L995.6 371.1L1001.6 372.1L1007.6 373.1L1013.6 373.9L1019.6 374.7L1025.6 375.4L1031.6 376.0L1037.6 376.5L1043.6 377.0L1049.6 377.3L1055.6 377.5L1061.6 377.6L1067.6 377.7L1073.6 377.6L1079.6 377.4L1085.6 377.1L1091.6 376.6L1097.6 376.1L1103.6 375.5L1109.6 374.8L1115.6 374.0L1121.6 373.2L1127.6 372.2L1133.6 371.2L1139.6 370.1L1145.6 369.0L1151.6 367.8L1157.6 366.6L1163.6 365.3L1169.6 363.9L1175.6 362.5L1181.6 361.1L1187.6 359.7L1193.6 358.2L1199.6 356.7L1205.6 355.2L1211.6 353.6L1217.6 352.1L1223.6 350.5L1229.6 349.0L1235.6 347.4L1241.6 345.8L1247.6 344.2L1253.6 342.6L1259.6 341.0L1265.6 339.3L1271.6 337.7L1277.6 336.1L1283.6 334.5L1289.6 332.8L1295.6 331.2L1301.6 329.6L1307.6 328.0L1313.6 326.4L1319.6 324.8L1325.6 323.2L1331.6 321.6L1337.6 320.0L1343.6 318.5L1349.6 316.9L1355.6 315.4L1361.6 313.8L1367.6 312.2L1373.6 310.6L1379.6 309.0L1385.6 307.4L1391.6 305.7L1397.6 304.0L1403.6 302.3L1409.6 300.6L1415.6 298.8L1421.6 296.9L1427.6 295.0L1433.6 293.0L1439.6 291.0L1445.6 288.9L1451.6 286.8L1457.6 284.6L1463.6 282.3L1469.6 280.0L1475.6 277.7L1481.6 275.4L1487.6 273.0L1493.6 270.7L1499.6 268.4L1505.6 266.0L1511.6 263.7L1517.6 261.4L1523.6 259.2L1529.6 257.0L1535.6 254.8L1541.6 252.7L1547.6 250.7L1553.6 248.7L1559.6 246.9L1565.6 245.1L1571.6 243.4L1577.6 241.8L1583.6 240.3L1589.6 238.9L1595.6 237.5L1601.6 236.2L1607.6 234.9L1613.6 233.6L1619.6 232.2L1625.6 230.8L1631.6 229.3L1637.6 227.9L1643.6 226.4L1649.6 224.9L1655.6 223.5L1661.6 222.2L1667.6 220.9L1673.6 219.7L1679.6 218.6L1685.6 217.6L1691.6 216.7L1697.6 216.0L1703.6 215.4L1709.6 215.0L1715.6 214.9L1721.6 215.0L1727.6 215.4L1733.6 216.2L1739.6 217.3L1745.6 218.8L1751.6 220.5L1757.6 222.4L1763.6 224.4L1769.6 226.3L1775.6 228.0L1781.6 229.4L1787.6 230.5L1793.6 231.1" stroke="#800080" stroke-width="7.0"/>
<path d="M185.6 328.4L191.6 328.6L197.6 328.8L203.6 328.9L209.6 329.0L215.6 329.0L221.6 329.0L227.6 329.0L233.6 329.0L239.6 328.9L245.6 328.7L251.6 328.6L257.6 328.4L263.6 328.1L269.6 327.8L275.6 327.5L281.6 327.2L287.6 326.9L293.6 326.5L299.6 326.1L305.6 325.6L311.6 325.1L317.6 324.6L323.6 324.1L329.6 323.6L335.6 323.0L341.6 322.4L347.6 321.8L353.6 321.1L359.6 320.5L365.6 319.8L371.6 319.1L377.6 318.3L383.6 317.6L389.6 316.8L395.6 316.1L401.6 315.3L407.6 314.4L413.6 313.6L419.6 312.8L425.6 311.9L431.6 311.1L437.5 310.2L443.5 309.3L449.5 308.4L455.5 307.5L461.5 306.6L467.5 305.6L473.5 304.7L479.5 303.8L485.5 302.8L491.5 301.9L497.5 300.9L503.5 299.9L509.5 299.0L515.5 298.0L521.5 297.0L527.5 296.1L533.5 295.1L539.5 294.1L545.5 293.1L551.5 292.2L557.5 291.2L563.5 290.2L569.5 289.3L575.5 288.3L581.5 287.4L587.5 286.4L593.5 285.5L599.5 284.6L605.5 283.6L611.5 282.7L617.5 281.8L623.5 281.0L629.5 280.1L635.5 279.3L641.5 278.4L647.5 277.6L653.5 276.9L659.5 276.1L665.5 275.4L671.5 274.7L677.5 274.0L683.5 273.4L689.5 272.8L695.5 272.2L701.5 271.7L707.5 271.2L713.5 270.7L719.5 270.3L725.5 269.9L731.5 269.5L737.5 269.2L743.5 268.9L749.5 268.6L755.5 268.4L761.5 268.2L767.5 268.0L773.5 267.8L779.5 267.7L785.5 267.6L791.5 267.6L797.5 267.5L803.5 267.5L809.5 267.6L815.5 267.6L821.5 267.7L827.5 267.8L833.5 267.9L839.5 268.0L845.5 268.2L851.5 268.3L857.5 268.5L863.5 268.7L869.5 269.0L875.5 269.2L881.5 269.5L887.5 269.7L893.5 270.0L899.5 270.3L905.5 270.6L911.5 270.9L917.5 271.3L923.5 271.6L929.5 271.9L935.4 272.3L941.4 272.6L947.4 273.0L953.4 273.3L959.4 273.7L965.4 274.0L971.4 274.3L977.4 274.6L983.4 274.9L989.4 275.1L995.4 275.3L1001.4 275.5L1007.4 275.6L1013.4 275.7L1019.4 275.7L1025.4 275.7L1031.4 275.6L1037.4 275.4L1043.4 275.2L1049.4 274.8L1055.4 274.5L1061.4 274.0L1067.4 273.5L1073.4 272.9L1079.4 272.2L1085.4 271.5L1091.4 270.7L1097.4 269.9L1103.4 269.0L1109.4 268.0L1115.4 267.0L1121.4 266.0L1127.4 264.9L1133.4 263.8L1139.4 262.6L1145.4 261.4L1151.4 260.1L1157.4 258.8L1163.4 257.5L1169.4 256.2L1175.4 254.9L1181.4 253.5L1187.4 252.1L1193.4 250.7L1199.4 249.4L1205.4 247.9L1211.4 246.5L1217.4 245.1L1223.4 243.7L1229.4 242.3L1235.4 240.8L1241.4 239.3L1247.4 237.8L1253.4 236.3L1259.4 234.8L1265.4 233.2L1271.4 231.6L1277.4 230.0L1283.4 228.3L1289.4 226.7L1295.4 224.9L1301.4 223.2L1307.4 221.4L1313.4 219.6L1319.4 217.7L1325.4 215.8L1331.4 213.9L1337.4 212.0L1343.4 210.0L1349.4 208.0L1355.4 205.9L1361.4 203.9L1367.4 201.8L1373.4 199.7L1379.4 197.5L1385.4 195.4L1391.4 193.2L1397.4 191.0L1403.4 188.8L1409.4 186.5L1415.4 184.3L1421.4 182.0L1427.3 179.7L1433.3 177.3L1439.3 175.0L1445.3 172.7L1451.3 170.3L1457.3 167.9L1463.3 165.5L1469.3 163.1L1475.3 160.7L1481.3 158.3L1487.3 155.8L1493.3 153.4L1499.3 150.9L1505.3 148.4L1511.3 146.0L1517.3 143.5L1523.3 141.0L1529.3 138.5L1535.3 136.0L1541.3 133.5L1547.3 131.0L1553.3 128.5L1559.3 126.0L1565.3 123.5L1571.3 121.0L1577.3 118.4L1583.3 115.9L1589.3 113.4L1595.3 110.9L1601.3 108.4L1607.3 105.9L1613.3 103.4L1619.3 100.9L1625.3 98.4L1631.3 95.9L1637.3 93.4L1643.3 90.9L1649.3 88.4L1655.3 85.9L1661.3 83.5L1667.3 81.0L1673.3 78.6L1679.2 77.9L1685.1 77.3L1691.1 76.9L1697.0 76.7L1702.9 76.6L1708.8 76.8L1714.7 77.1L1720.6 77.6L1726.6 78.3L1732.5 79.2L1738.4 80.2L1744.3 81.5L1750.2 82.9L1756.2 84.5L1762.1 86.2L1768.0 87.9L1773.9 89.5L1779.8 90.8L1785.7 91.9L1791.7 92.5L1797.6 92.7L1803.5 92.2" stroke="#800000" stroke-width="7.0"/>
</g>
<rect x="1048.2" y="757.2" width="3.6" height="8.4" fill="#0a4d0a"/>
<g fill="none" stroke="#1c1c1c" stroke-width="2.8">
<path d="M495.8 303.2 L495.8 378.0" stroke-dasharray="15.7 12.2" stroke-dashoffset="0"/>
<path d="M495.8 378.0 L526.5 471.0" stroke-dasharray="13 17.5" stroke-dashoffset="0"/>
<path d="M526.5 471.0 L419.5 540.5" stroke-dasharray="13 17" stroke-dashoffset="0"/>
<path d="M419.5 540.5 L446.0 670.0" stroke-dasharray="18 9 2.5 9" stroke-dashoffset="0"/>
<path d="M446.0 670.0 L580.9 765.5" stroke-dasharray="17.7 19.2" stroke-dashoffset="0"/>
<path d="M580.9 765.5 L653.7 879.8" stroke-dasharray="16.5 18.2" stroke-dashoffset="27.7"/>
<path d="M653.7 879.8 L645.6 1002.6" stroke-dasharray="14.5 14.5" stroke-dashoffset="0"/>
<path d="M645.6 1002.6 L603.1 1146.0" stroke-dasharray="14.5 15.5" stroke-dashoffset="0"/>
</g>
<g stroke="#000" stroke-width="6.4" stroke-linecap="round">
<line x1="457.8" y1="338.9" x2="530.4" y2="279.7"/>
<line x1="457.8" y1="407.2" x2="530.4" y2="348.8"/>
<line x1="496.6" y1="499.8" x2="568.6" y2="441.6"/>
<line x1="377.2" y1="574.4" x2="450.0" y2="514.0"/>
<line x1="418.5" y1="698.8" x2="491.4" y2="638.0"/>
<line x1="539.0" y1="800.6" x2="611.8" y2="740.6"/>
<line x1="615.3" y1="910.6" x2="688.9" y2="851.0"/>
<line x1="604.0" y1="1032.4" x2="677.8" y2="972.0"/>
<line x1="566.6" y1="1179.2" x2="641.2" y2="1117.8"/>
</g>
<line x1="78.7" y1="678.5" x2="78.7" y2="388" stroke="#000" stroke-width="7.8" stroke-linecap="round"/>
<path d="M75 359.2 L82.4 359.2 L88.6 394.2 L67 394.2 Z" fill="#000" stroke="#000" stroke-width="1.4" stroke-linejoin="round"/>
<text x="496.3" y="1318.1" font-size="63.0">50</text>
<text x="913.5" y="1318.1" font-size="63.0">100</text>
<text x="1344.7" y="1318.1" font-size="63.0">150</text>
<text x="1776.8" y="1318.1" font-size="63.0">200</text>
<text font-size="69.5"><tspan x="786.4" y="1392.2">Temperature(</tspan><tspan class="cj" x="1199.9" y="1395.4" font-size="62.0">℃</tspan><tspan x="1266.3" y="1392.2">)</tspan></text>
<text transform="translate(55.5,904.0) rotate(-90)" font-size="63.5">Endo</text>
<text fill="#800000"><tspan x="1677.9" y="166.1" font-size="57.5">130</tspan><tspan class="cj" x="1767.8" y="168.3" font-size="53.0">℃</tspan></text>
<text fill="#800080"><tspan x="1671.4" y="310.2" font-size="57.5">140</tspan><tspan class="cj" x="1760.8" y="312.4" font-size="53.0">℃</tspan></text>
<text fill="#e43c20"><tspan x="1675.6" y="470.4" font-size="57.5">150</tspan><tspan class="cj" x="1764.8" y="472.6" font-size="53.0">℃</tspan></text>
<text fill="#007800"><tspan x="1665.8" y="592.1" font-size="57.5">160</tspan><tspan class="cj" x="1755.0" y="594.4" font-size="53.0">℃</tspan></text>
<text fill="#ec081c"><tspan x="1670.6" y="707.9" font-size="57.5">170</tspan><tspan class="cj" x="1759.8" y="710.1" font-size="53.0">℃</tspan></text>
<text fill="#00ff00"><tspan x="1674.2" y="821.5" font-size="57.5">180</tspan><tspan class="cj" x="1762.9" y="823.8" font-size="53.0">℃</tspan></text>
<text fill="#0000ff"><tspan x="1670.6" y="945.9" font-size="57.5">190</tspan><tspan class="cj" x="1759.8" y="948.1" font-size="53.0">℃</tspan></text>
<text fill="#ff0000"><tspan x="1669.1" y="1068.5" font-size="57.5">200</tspan><tspan class="cj" x="1759.8" y="1070.8" font-size="53.0">℃</tspan></text>
<text fill="#000000"><tspan x="1663.0" y="1197.0" font-size="57.5">210</tspan><tspan class="cj" x="1754.2" y="1199.2" font-size="53.0">℃</tspan></text>
<text><tspan x="540.9" y="266.1" font-size="46.0">46.2 </tspan><tspan class="cj" x="636.4" y="268.1" font-size="44.0">℃</tspan></text>
<text><tspan x="553.0" y="369.9" font-size="46.0">46.1 </tspan><tspan class="cj" x="648.0" y="371.9" font-size="44.0">℃</tspan></text>
<text><tspan x="578.2" y="447.1" font-size="46.0">50.1 </tspan><tspan class="cj" x="675.4" y="449.1" font-size="44.0">℃</tspan></text>
<text><tspan x="430.9" y="563.6" font-size="46.0">38.3 </tspan><tspan class="cj" x="529.5" y="565.6" font-size="44.0">℃</tspan></text>
<text><tspan x="483.5" y="691.9" font-size="46.0">41.5 </tspan><tspan class="cj" x="581.1" y="693.9" font-size="44.0">℃</tspan></text>
<text><tspan x="621.1" y="803.9" font-size="46.0">57.6 </tspan><tspan class="cj" x="718.8" y="805.9" font-size="44.0">℃</tspan></text>
<text><tspan x="689.1" y="927.9" font-size="46.0">65.9 </tspan><tspan class="cj" x="787.6" y="929.9" font-size="44.0">℃</tspan></text>
<text><tspan x="681.1" y="1057.9" font-size="46.0">63.0 </tspan><tspan class="cj" x="780.5" y="1059.9" font-size="44.0">℃</tspan></text>
<text><tspan x="657.6" y="1190.4" font-size="46.0">58.4 </tspan><tspan class="cj" x="755.1" y="1192.4" font-size="44.0">℃</tspan></text>
</g>
</svg>
</body></html>
